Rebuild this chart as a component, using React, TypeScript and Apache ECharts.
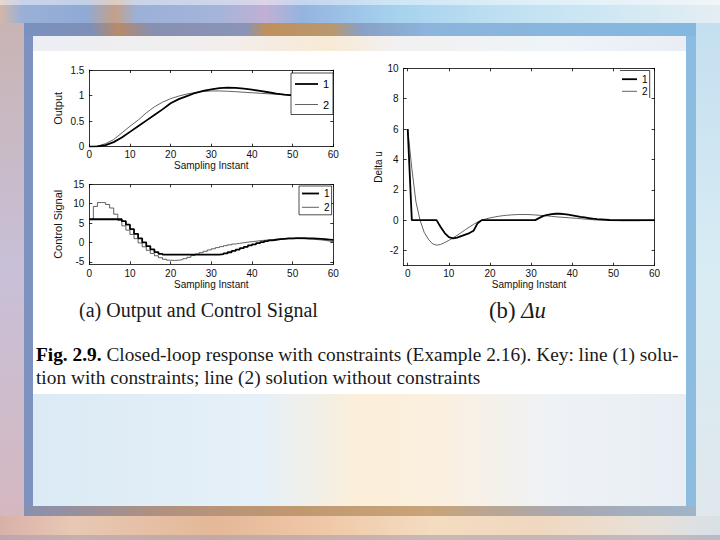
import React, { useEffect, useRef } from "react";
import * as echarts from "echarts";

// ---------- data ----------
const sampleX = [0,1,2,3,4,5,6,7,8,9,10,11,12,13,14,15,16,17,18,19,20,21,22,23,24,25,26,27,28,29,30,31,32,33,34,35,36,37,38,39,40,41,42,43,44,45,46,47,48,49,50,51,52,53,54,55,56,57,58,59,60];
const outputX = [0,2,4,6,8,10,12,14,16,18,20,22,24,26,28,30,32,34,36,38,40,42,44,46,48,50,52,54,56,58,60];
// Output, line 1 (with constraints) and line 2 (without constraints)
const output1 = [0,0.005,0.03,0.09,0.18,0.29,0.40,0.51,0.62,0.73,0.85,0.93,0.99,1.05,1.09,1.12,1.145,1.155,1.15,1.135,1.115,1.09,1.065,1.04,1.02,1.005,0.995,0.99,0.99,0.99,0.995];
const output2 = [0,0.01,0.06,0.14,0.27,0.40,0.52,0.66,0.78,0.87,0.94,0.99,1.03,1.06,1.08,1.09,1.09,1.085,1.075,1.065,1.055,1.045,1.035,1.025,1.015,1.005,1.0,1.0,1.0,1.0,1.0];
// Control signal u
const control1 = [6,6,6,6,6,6,6,6,5.5,4.6,3.45,2.25,1.1,0.05,-0.9,-1.75,-2.45,-2.9,-3.1,-3.1,-3.1,-3.1,-3.1,-3.1,-3.1,-3.1,-3.1,-3.1,-3.1,-3.1,-3.1,-3.1,-3.0,-2.8,-2.5,-2.15,-1.8,-1.45,-1.1,-0.75,-0.45,-0.15,0.1,0.35,0.55,0.72,0.86,0.97,1.05,1.1,1.13,1.14,1.13,1.1,1.06,1.0,0.94,0.87,0.78,0.68,0.58];
const control2 = [6,9.3,10.3,10.3,9.8,8.9,7.3,5.7,4.3,3.2,2.1,1.0,-0.1,-1.1,-2.0,-2.8,-3.4,-3.9,-4.3,-4.55,-4.6,-4.55,-4.4,-4.15,-3.8,-3.35,-2.95,-2.6,-2.25,-1.9,-1.6,-1.3,-1.05,-0.8,-0.58,-0.38,-0.2,-0.05,0.1,0.23,0.35,0.47,0.58,0.68,0.76,0.83,0.89,0.94,0.97,0.99,1.0,0.99,0.96,0.92,0.86,0.78,0.68,0.55,0.4,0.22,0.05];
// Delta u
const deltaU1 = [6.0,0,0,0,0,0,0,0,-0.45,-0.85,-1.12,-1.2,-1.15,-1.05,-0.95,-0.85,-0.7,-0.2,0,0,0,0,0,0,0,0,0,0,0,0,0,0,0.15,0.28,0.35,0.4,0.42,0.42,0.4,0.36,0.32,0.27,0.22,0.18,0.14,0.1,0.07,0.05,0.03,0.01,0,0,0,0,0,0,0,0,0,0,0];
const deltaU2 = [6.0,3.4,1.2,0.0,-0.8,-1.25,-1.55,-1.65,-1.6,-1.48,-1.33,-1.17,-1.0,-0.82,-0.63,-0.45,-0.28,-0.12,0.0,0.08,0.15,0.2,0.25,0.29,0.32,0.34,0.36,0.37,0.37,0.37,0.36,0.34,0.32,0.3,0.28,0.25,0.22,0.2,0.18,0.16,0.14,0.12,0.1,0.07,0.05,0.03,0.01,0.0,-0.01,-0.02,-0.03,-0.03,-0.04,-0.04,-0.04,-0.04,-0.04,-0.03,-0.03,-0.03,-0.03];

const seriesNames = ["1", "2"];
const xTicks = [0, 10, 20, 30, 40, 50, 60];
const outputTicks = [0, 0.5, 1, 1.5];
const controlTicks = [-5, 0, 5, 10, 15];
const deltaTicks = [-2, 0, 2, 4, 6, 8, 10];

const captionA = "(a) Output and Control Signal";
const captionBPlain = "(b) ";
const captionBMath = "Δu";
const figLabel = "Fig. 2.9.";
const figLine1 = " Closed-loop response with constraints (Example 2.16). Key: line (1) solu-";
const figLine2 = "tion with constraints; line (2) solution without constraints";

// ---------- styles ----------
const SANS = "'Liberation Sans', Arial, Helvetica, sans-serif";
const SERIF = "'Liberation Serif', 'Times New Roman', serif";
const AX = "#000";
const THICK = { stroke: "#000", lineWidth: 1.8 };
const THIN = { stroke: "#3a3a3a", lineWidth: 0.8 };

function measure(text: string, font: string): number {
  const c = document.createElement("canvas");
  const ctx = c.getContext("2d");
  if (!ctx) return text.length * 50;
  ctx.font = font;
  return ctx.measureText(text).width;
}

function lin(stops: [number, string][], vertical = false) {
  return {
    type: "linear",
    x: 0,
    y: 0,
    x2: vertical ? 0 : 1,
    y2: vertical ? 1 : 0,
    colorStops: stops.map(([offset, color]) => ({ offset, color })),
  };
}

function rect(x: number, y: number, w: number, h: number, fill: any, z: number) {
  return { type: "rect", shape: { x, y, width: w, height: h }, style: { fill }, z, silent: true };
}

function seg(x1: number, y1: number, x2: number, y2: number, style: any, z = 40) {
  return { type: "line", shape: { x1, y1, x2, y2 }, style: { ...style }, z, silent: true };
}

function label(text: string, x: number, y: number, size: number, z = 41) {
  return {
    type: "text",
    x,
    y,
    style: { text, fontSize: size, fontFamily: SANS, fill: "#000", verticalAlign: "middle" },
    z,
    silent: true,
  };
}

// legend drawn as a MATLAB-style key: line sample + label for each series
function legendKey(
  box: { x: number; y: number; w: number; h: number } | null,
  lineX1: number,
  lineX2: number,
  textX: number,
  ys: number[],
  size: number
) {
  const els: any[] = [];
  if (box) {
    els.push({
      type: "rect",
      shape: { x: box.x, y: box.y, width: box.w, height: box.h },
      style: { fill: "#fff", stroke: "#000", lineWidth: 0.7 },
      z: 39,
      silent: true,
    });
  }
  seriesNames.forEach((n, i) => {
    els.push(seg(lineX1, ys[i], lineX2, ys[i], i === 0 ? THICK : THIN));
    els.push(label(n, textX, ys[i], size));
  });
  return els;
}

function xPair(gi: number, min: number, max: number, labelMargin: number, nameGap: number) {
  const common = {
    type: "value",
    gridIndex: gi,
    min,
    max,
    splitLine: { show: false },
    axisLine: { show: true, onZero: false, lineStyle: { color: AX, width: 0.8 } },
    axisTick: { show: true, inside: true, length: 3, customValues: xTicks, lineStyle: { color: AX, width: 0.8 } },
  };
  return [
    {
      ...common,
      position: "bottom",
      axisLabel: { show: true, customValues: xTicks, margin: labelMargin, fontSize: 10, color: "#111", fontFamily: SANS },
      name: "Sampling Instant",
      nameLocation: "middle",
      nameGap,
      nameTextStyle: { fontSize: 10, color: "#111", fontFamily: SANS },
    },
    { ...common, position: "top", axisLabel: { show: false } },
  ];
}

function yPair(gi: number, min: number, max: number, ticks: number[], name: string, nameGap: number, nameSize: number) {
  const common = {
    type: "value",
    gridIndex: gi,
    min,
    max,
    splitLine: { show: false },
    axisLine: { show: true, onZero: false, lineStyle: { color: AX, width: 0.8 } },
    axisTick: { show: true, inside: true, length: 3, customValues: ticks, lineStyle: { color: AX, width: 0.8 } },
  };
  return [
    {
      ...common,
      position: "left",
      axisLabel: { show: true, customValues: ticks, margin: 5, fontSize: 10, color: "#111", fontFamily: SANS },
      name,
      nameLocation: "middle",
      nameGap,
      nameTextStyle: { fontSize: nameSize, color: "#111", fontFamily: SANS },
    },
    { ...common, position: "right", axisLabel: { show: false } },
  ];
}

function lineSeries(name: string, xi: number, xs: number[], ys: number[], thick: boolean, step?: string) {
  return {
    type: "line",
    name,
    xAxisIndex: xi,
    yAxisIndex: xi,
    data: xs.map((x, i) => [x, ys[i]]),
    symbol: "none",
    showSymbol: false,
    step: step || false,
    lineStyle: thick ? { color: "#000", width: 1.8 } : { color: "#3a3a3a", width: 0.8 },
    itemStyle: { color: thick ? "#000" : "#3a3a3a" },
    emphasis: { disabled: true },
    z: thick ? 3 : 2,
  };
}

export default function App() {
  const ref = useRef<HTMLDivElement>(null);

  useEffect(() => {
    if (!ref.current) return;
    const chart = echarts.init(ref.current, null, { renderer: "svg" });

    // fit caption font sizes to the widths seen in the reference
    const sA = (100 * 239) / measure(captionA, `100px ${SERIF}`);
    const wB = measure(captionBPlain, `100px ${SERIF}`) + measure(captionBMath, `italic 100px ${SERIF}`);
    const sB = (100 * 57) / wB;
    const w1 = measure(figLabel, `bold 100px ${SERIF}`) + measure(figLine1, `100px ${SERIF}`);
    const s1 = (100 * 643) / w1;

    const option: any = {
      animation: false,
      backgroundColor: "transparent",
      grid: [
        { left: 89.3, top: 70, width: 244, height: 76.7, containLabel: false },
        { left: 89.3, top: 184.3, width: 244, height: 80, containLabel: false },
        { left: 403.6, top: 68.3, width: 251, height: 197.4, containLabel: false },
      ],
      xAxis: [...xPair(0, 0, 60, 3, 12.5), ...xPair(1, 0, 60, 4, 13.5), ...xPair(2, -1, 60, 3, 14)],
      yAxis: [
        ...yPair(0, 0, 1.5, outputTicks, "Output", 25.5, 11),
        ...yPair(1, -5.6, 15, controlTicks, "Control Signal", 25.5, 11),
        ...yPair(2, -3, 10, deltaTicks, "Delta u", 18, 10),
      ],
      series: [
        lineSeries("1", 0, outputX, output1, true),
        lineSeries("2", 0, outputX, output2, false),
        lineSeries("1", 2, sampleX, control1, true, "end"),
        lineSeries("2", 2, sampleX, control2, false, "end"),
        lineSeries("1", 4, sampleX, deltaU1, true),
        lineSeries("2", 4, sampleX, deltaU2, false),
      ],
      graphic: {
        elements: [
          // slide background
          rect(0, 0, 720, 540, lin([[0, "#cdb9c4"], [0.03, "#c9c0d4"], [0.5, "#e8eef6"], [0.97, "#cfe6f3"], [1, "#dcebf2"]]), -100),
          rect(0, 0, 720, 23, lin([[0, "#d4b8a8"], [0.03, "#9ab0d6"], [0.12, "#90aad6"], [0.16, "#c4a088"], [0.19, "#9cb0d8"], [0.3, "#a4b4da"], [0.37, "#c0b0d4"], [0.42, "#94b4e0"], [0.55, "#a6d2ee"], [0.7, "#bfe0f2"], [0.9, "#d6eaf4"], [1, "#e4eef2"]]), -99),
          rect(0, 0, 720, 5, "rgba(255,255,255,0.45)", -98),
          rect(0, 516, 720, 24, lin([[0, "#d8b0a8"], [0.1, "#e8c8b4"], [0.3, "#e4b898"], [0.45, "#f0c8a8"], [0.6, "#f4dcc0"], [0.75, "#f0d8c0"], [0.9, "#e8e0d8"], [1, "#d8e0e8"]]), -99),
          rect(0, 535, 720, 5, "rgba(170,160,175,0.6)", -98),
          rect(0, 23, 24, 493, lin([[0, "#c8b4b4"], [0.5, "#c8c0d8"], [1, "#d4b8c0"]], true), -99),
          rect(696, 23, 24, 493, lin([[0, "#c4dff0"], [0.5, "#d8ecf4"], [1, "#e0e8ec"]], true), -99),
          // frame
          rect(24, 23, 672, 493, lin([[0, "#7d92bf"], [0.5, "#86a6cc"], [1, "#8cbde0"]]), -97),
          rect(24, 23, 672, 13, lin([[0, "#7a90c0"], [0.1, "#7e90b8"], [0.14, "#b88a68"], [0.19, "#8890b0"], [0.33, "#8a94b8"], [0.36, "#c0905c"], [0.46, "#b89870"], [0.5, "#8aa0c4"], [0.6, "#8cb4dc"], [1, "#84b8e0"]]), -96),
          rect(24, 506, 672, 10, lin([[0, "#8890b0"], [0.2, "#b09080"], [0.4, "#c09870"], [0.6, "#c8a478"], [0.8, "#a8a8b0"], [1, "#a0b4c8"]]), -96),
          // inner panel
          rect(33, 36, 653, 470, lin([[0, "#dbeaf5"], [0.35, "#e6f0f8"], [0.5, "#fbefd9"], [0.62, "#fbf0e0"], [0.8, "#eef2f6"], [1, "#e8eef4"]]), -95),
          rect(33, 36, 653, 15, lin([[0, "#eceef4"], [0.3, "#f2eeec"], [0.45, "#f8ead4"], [0.55, "#f2f0f0"], [0.8, "#eef4f8"], [1, "#e8eef4"]]), -94),
          rect(33, 51, 653, 343, "#ffffff", -93),
          // legends (keys)
          ...legendKey({ x: 291, y: 73, w: 42, h: 41.5 }, 295, 318, 323, [84, 104.5], 11),
          ...legendKey({ x: 299, y: 186, w: 32.6, h: 28.8 }, 302, 319, 324, [193.5, 207.3], 10),
          ...legendKey(null, 622, 637, 642, [79.2, 91.3], 10),
          seg(620, 70.5, 649.7, 70.5, { stroke: "#000", lineWidth: 0.7 }, 39),
          seg(649.7, 70.5, 649.7, 98, { stroke: "#000", lineWidth: 0.7 }, 39),
          // captions
          {
            type: "text",
            x: 79,
            y: 310,
            style: { text: captionA, fontSize: sA, fontFamily: SERIF, fill: "#1a1a1a", verticalAlign: "middle" },
            z: 30,
            silent: true,
          },
          {
            type: "text",
            x: 489,
            y: 310,
            style: {
              text: captionBPlain + "{m|" + captionBMath + "}",
              fontSize: sB,
              fontFamily: SERIF,
              fill: "#1a1a1a",
              verticalAlign: "middle",
              rich: { m: { fontStyle: "italic", fontSize: sB, fontFamily: SERIF, fill: "#1a1a1a" } },
            },
            z: 30,
            silent: true,
          },
          {
            type: "text",
            x: 36,
            y: 354,
            style: {
              text: "{b|" + figLabel + "}" + figLine1,
              fontSize: s1,
              fontFamily: SERIF,
              fill: "#1a1a1a",
              verticalAlign: "middle",
              rich: { b: { fontWeight: "bold", fontSize: s1, fontFamily: SERIF, fill: "#000" } },
            },
            z: 30,
            silent: true,
          },
          {
            type: "text",
            x: 36,
            y: 377,
            style: { text: figLine2, fontSize: s1, fontFamily: SERIF, fill: "#1a1a1a", verticalAlign: "middle" },
            z: 30,
            silent: true,
          },
        ],
      },
    };

    chart.setOption(option);
    return () => chart.dispose();
  }, []);

  return <div ref={ref} style={{ position: "absolute", left: 0, top: 0, width: 720, height: 540 }} />;
}
